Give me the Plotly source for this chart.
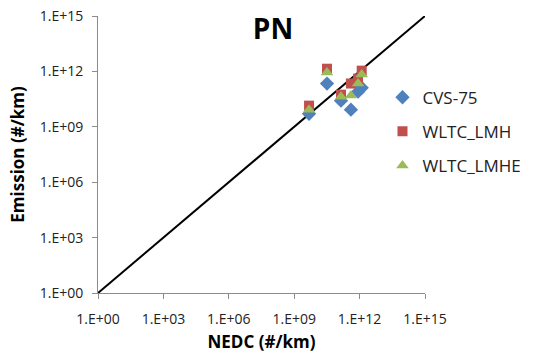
import plotly.graph_objects as go

# Data (#/km)
nedc = [3.2e10, 4.8e9, 1.4e11, 4.0e11, 8.5e11, 1.25e12]
cvs75 = [2.2e11, 5.1e9, 2.6e10, 8.5e9, 8.0e10, 1.3e11]
wltc_lmh = [1.4e12, 1.4e10, 5.5e10, 2.2e11, 4.1e11, 1.1e12]
wltc_lmhe = [8.7e11, 8.5e9, 4.3e10, 4.9e10, 2.2e11, 6.8e11]
tick_vals = [1e0, 1e3, 1e6, 1e9, 1e12, 1e15]
tick_text = ["1.E+00", "1.E+03", "1.E+06", "1.E+09", "1.E+12", "1.E+15"]
line_x = [1e0, 1e15]
line_y = [1e0, 1e15]

font = "Open Sans, Liberation Sans, sans-serif"

fig = go.Figure()
fig.add_trace(go.Scatter(x=line_x, y=line_y, mode="lines",
                         line=dict(color="black", width=2), showlegend=False,
                         hoverinfo="skip"))
fig.add_trace(go.Scatter(x=nedc, y=cvs75, mode="markers", name="CVS-75",
                         legendgroup="a",
                         marker=dict(symbol="diamond", size=11, color="#4F81BD")))
fig.add_trace(go.Scatter(x=nedc, y=wltc_lmh, mode="markers", name="WLTC_LMH",
                         legendgroup="b",
                         marker=dict(symbol="square", size=10, color="#C0504D")))
fig.add_trace(go.Scatter(x=nedc, y=wltc_lmhe, mode="markers", name="WLTC_LMHE",
                         legendgroup="c",
                         marker=dict(symbol="triangle-up", size=11, color="#9BBB59")))

axis_common = dict(type="log", range=[0, 15], tickvals=tick_vals, ticktext=tick_text,
                   showgrid=False, zeroline=False, showline=True, linecolor="#8C8C8C",
                   linewidth=1, ticks="outside", ticklen=5, tickcolor="#8C8C8C",
                   automargin=False,
                   tickfont=dict(family=font, size=14, color="#222222"))

fig.update_layout(
    width=536, height=354,
    margin=dict(l=98, r=111, t=16, b=61, autoexpand=False),
    paper_bgcolor="white", plot_bgcolor="white",
    title=dict(text="<b>PN</b>", x=273 / 536, xanchor="center", y=1 - 29 / 354,
               yanchor="middle", automargin=False,
               font=dict(family=font, size=28, color="black")),
    xaxis=dict(**axis_common, ticklabelstandoff=8,
               title=dict(text="<b>NEDC (#/km)</b>", standoff=9,
                          font=dict(family=font, size=17, color="black"))),
    yaxis=dict(**axis_common, ticklabelstandoff=6,
               title=dict(text="<b>Emission (#/km)</b>", standoff=10,
                          font=dict(family=font, size=17, color="black"))),
    legend=dict(x=0.87, xanchor="left", y=0.77, yanchor="top",
                font=dict(family=font, size=17, color="#222222"),
                itemwidth=30,
                tracegroupgap=9, traceorder="grouped", bgcolor="rgba(0,0,0,0)"),
    showlegend=True,
)

fig.write_html("out.html", config={"displayModeBar": False},
               post_script="document.body.style.margin='0';")
